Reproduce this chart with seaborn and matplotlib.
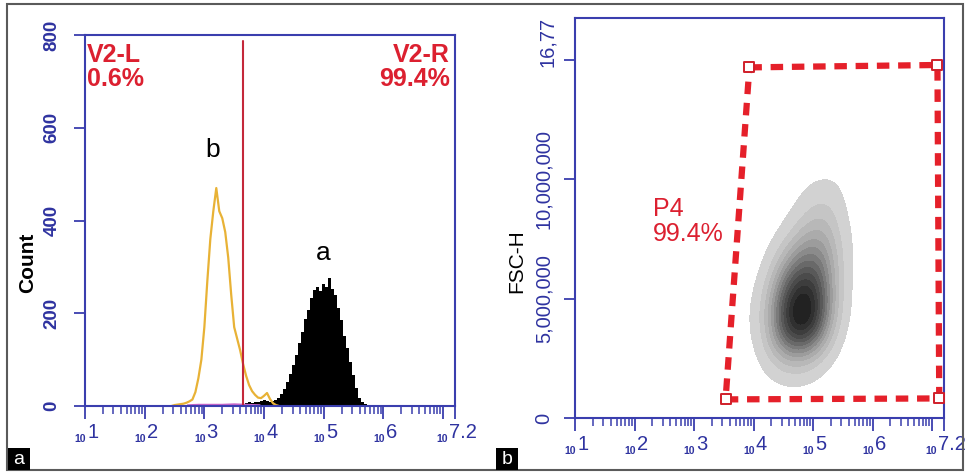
import numpy as np
import pandas as pd
import matplotlib
matplotlib.use("Agg")
import matplotlib.pyplot as plt
import seaborn as sns
from matplotlib.patches import Rectangle

# ---------------- data ----------------
# panel a: histogram "b" (yellow outline), x in log10 units
b_log = [2.45, 2.50, 2.55, 2.60, 2.65, 2.70, 2.75, 2.80, 2.85, 2.90, 2.95, 3.00,
         3.05, 3.10, 3.15, 3.20, 3.25, 3.30, 3.35, 3.40, 3.45, 3.50, 3.55, 3.60,
         3.65, 3.70, 3.75, 3.80, 3.85, 3.90, 3.95, 4.00, 4.05, 4.10, 4.15, 4.20, 4.25]
b_count = [0, 2, 3, 4, 5, 7, 10, 14, 30, 60, 100, 170,
           270, 360, 420, 470, 420, 405, 375, 320, 240, 170, 145, 120,
           90, 65, 45, 32, 24, 18, 17, 22, 28, 15, 6, 2, 0]

# panel a: histogram "a" (black filled)
a_log = [3.50, 3.55, 3.60, 3.65, 3.70, 3.75, 3.80, 3.85, 3.90, 3.95, 4.00, 4.05,
         4.10, 4.15, 4.20, 4.25, 4.30, 4.35, 4.40, 4.45, 4.50, 4.55, 4.60, 4.65,
         4.70, 4.75, 4.80, 4.85, 4.90, 4.95, 5.00, 5.05, 5.10, 5.15, 5.20, 5.25,
         5.30, 5.35, 5.40, 5.45, 5.50, 5.55, 5.60, 5.65, 5.70, 5.75]
a_count = [2, 3, 4, 5, 6, 8, 7, 9, 8, 10, 12, 10,
           8, 10, 12, 18, 26, 36, 52, 70, 88, 110, 135, 160,
           188, 208, 232, 250, 256, 248, 262, 256, 275, 252, 240, 212,
           185, 152, 125, 95, 66, 38, 18, 8, 4, 0]

# panel a: faint magenta trace along the baseline
c_log = [2.72, 2.90, 3.10, 3.30, 3.50, 3.70, 3.93]
c_count = [2, 3, 3, 3, 4, 3, 2]

gate_v2 = 3.65
v2_left = ["V2-L", "0.6%"]
v2_right = ["V2-R", "99.4%"]

count_ticks = [0, 200, 400, 600, 800]

# panel b: relative density of the FSC-H cloud on a grid (log10 x by FSC-H)
cloud_logx = [3.6, 3.8, 4.0, 4.2, 4.4, 4.6, 4.8, 5.0, 5.2, 5.4, 5.6, 5.8]
cloud_fsc = [9.5e6, 8.5e6, 7.5e6, 6.5e6, 5.5e6, 4.5e6, 3.5e6, 2.5e6]
cloud_density = [
    [0, 0, 0, 0, 0, 0, 0.2, 0.5, 0.6, 0.4, 0, 0],
    [0, 0, 0, 0, 0, 0.2, 0.7, 1.4, 1.6, 0.8, 0.1, 0],
    [0, 0, 0, 0, 0.3, 1.0, 2.4, 3.2, 2.8, 1.2, 0.3, 0],
    [0, 0, 0, 0.3, 1.6, 3.8, 5.2, 5.4, 4.2, 1.6, 0.3, 0],
    [0, 0.1, 0.1, 1.0, 3.6, 6.8, 8.2, 7.8, 4.8, 1.6, 0.2, 0],
    [0.1, 0.1, 0.3, 1.6, 5.2, 8.8, 10.0, 9.2, 5.4, 1.6, 0.2, 0],
    [0, 0.1, 0.2, 1.2, 4.2, 7.6, 8.6, 7.2, 3.6, 0.9, 0, 0],
    [0, 0, 0, 0.3, 1.0, 1.8, 2.0, 1.4, 0.5, 0.1, 0, 0],
]

# gate P4 vertices (log10 x, FSC-H)
p4_x = [3.93, 7.09, 7.12, 3.53]
p4_y = [14.70e6, 14.80e6, 0.82e6, 0.78e6]
p4_text = ["P4", "99.4%"]

fsc_ticks = [0, 5e6, 10e6, 15e6]
fsc_labels = ["0", "5,000,000", "10,000,000", ""]
fsc_top = 16.77e6
fsc_top_label = "16,77"

x_decades = [1, 2, 3, 4, 5, 6, 7]
x_end = 7.2
x_label_pos = [1, 2, 3, 4, 5, 6, 7.2]
x_exp_labels = ["1", "2", "3", "4", "5", "6", "7.2"]

# ---------------- style ----------------
sns.set_style("white")
plt.rcParams["font.family"] = ["Liberation Sans", "DejaVu Sans"]

BLUE = "#2f33a0"
SPINE = "#3a3eae"
RED = "#dc2030"

W, H = 965, 472
fig = plt.figure(figsize=(W / 100, H / 100), dpi=100)


def px_axes(left, right, top, bottom):
    return fig.add_axes([left / W, 1 - bottom / H, (right - left) / W, (bottom - top) / H])


ax1 = px_axes(85, 455, 35, 406)
ax2 = px_axes(575, 944, 18, 418)

df_a = pd.DataFrame({"logx": a_log, "count": a_count})
df_b = pd.DataFrame({"logx": b_log, "count": b_count})
df_c = pd.DataFrame({"logx": c_log, "count": c_count})
cloud_rows = [(lx, fy, w) for fy, row in zip(cloud_fsc, cloud_density)
              for lx, w in zip(cloud_logx, row) if w > 0]
df_cloud = pd.DataFrame(cloud_rows, columns=["logx", "fsc", "w"])
df_gate = pd.DataFrame({"logx": p4_x + p4_x[:1], "fsc": p4_y + p4_y[:1]})
df_vert = pd.DataFrame({"logx": p4_x, "fsc": p4_y})

# ---------------- panel a ----------------
a_edges = [round(v - 0.025, 4) for v in a_log] + [round(a_log[-1] + 0.025, 4)]
sns.histplot(data=df_a, x="logx", weights="count", bins=a_edges, element="step",
             fill=True, color="black", alpha=1, linewidth=0, ax=ax1)
sns.lineplot(data=df_c, x="logx", y="count", color="#c865c8", lw=1.2, ax=ax1)
sns.lineplot(data=df_b, x="logx", y="count", color="#e8b236", lw=1.6, ax=ax1)
ax1.axvline(gate_v2, ymin=0, ymax=0.985, color="#c4283a", lw=1.5)

ax1.set_xlim(1, x_end)
ax1.set_ylim(0, 800)
ax1.set_xlabel("")
ax1.set_ylabel("")

for txt, xa, ya, ha in ((v2_left[0], 0.006, 0.978, "left"), (v2_left[1], 0.006, 0.913, "left"),
                        (v2_right[0], 0.987, 0.978, "right"), (v2_right[1], 0.987, 0.913, "right")):
    ax1.text(xa, ya, txt, transform=ax1.transAxes, ha=ha, va="top",
             fontsize=18, fontweight="bold", color=RED)
ax1.text(0.346, 0.671, "b", transform=ax1.transAxes, ha="center", va="baseline",
         fontsize=19, color="black")
ax1.text(0.643, 0.394, "a", transform=ax1.transAxes, ha="center", va="baseline",
         fontsize=19, color="black")
ax1.text(-0.154, 0.385, "Count", transform=ax1.transAxes, ha="center", va="center",
         rotation=90, fontsize=15, fontweight="bold", color="black")

ax1.set_yticks(count_ticks)
ax1.set_yticklabels([str(t) for t in count_ticks])
for lab in ax1.get_yticklabels():
    lab.set_fontweight("bold")

# ---------------- panel b ----------------
grey_cmap = sns.blend_palette(["#d8d8d8", "#a6a6a6", "#5c5c5c", "#1c1c1c"], as_cmap=True)
sns.kdeplot(data=df_cloud, x="logx", y="fsc", weights="w", fill=True, cmap=grey_cmap,
            levels=14, thresh=0.03, bw_adjust=0.85, ax=ax2)

sns.lineplot(data=df_gate, x="logx", y="fsc", sort=False, estimator=None,
             color="#e5202a", lw=4.5, linestyle=(0, (2.0, 1.4)), ax=ax2)
sns.scatterplot(data=df_vert, x="logx", y="fsc", marker="s", s=45, facecolor="white",
                edgecolor="#d01f2a", linewidth=1.4, zorder=5, ax=ax2)

ax2.set_xlim(1, x_end)
ax2.set_ylim(0, fsc_top)
ax2.set_xlabel("")
ax2.set_ylabel("")
ax2.set_yticks(fsc_ticks)
ax2.set_yticklabels(fsc_labels)

ax2.text(0.211, 0.5525, p4_text[0], transform=ax2.transAxes, ha="left", va="top",
         fontsize=18, color=RED)
ax2.text(0.211, 0.49, p4_text[1], transform=ax2.transAxes, ha="left", va="top",
         fontsize=18, color=RED)
ax2.text(-0.157, 0.3925, "FSC-H", transform=ax2.transAxes, ha="center", va="center",
         rotation=90, fontsize=15, color="black")
ax2.annotate(fsc_top_label, xy=(0, 15.77e6), xycoords=("axes fraction", "data"),
             xytext=(-19.5, 0), textcoords="offset points", ha="center", va="center",
             rotation=90, fontsize=14.5, color=BLUE)

# ---------------- shared axis styling ----------------
BASE_FS, EXP_FS = 7.5, 14.5
CHAR_W = {".": 0.278}
minor = [d + np.log10(k) for d in x_decades for k in range(2, 10) if d + np.log10(k) < x_end]
for ax, ypad, ylsize in ((ax1, 9.5, 13.5), (ax2, 7.5, 14.5)):
    for s in ax.spines.values():
        s.set_color(SPINE)
        s.set_linewidth(1.5)
    ax.set_xticks(x_decades + [x_end])
    ax.set_xticklabels([""] * (len(x_decades) + 1))
    ax.set_xticks(minor, minor=True)
    ax.tick_params(axis="x", which="major", direction="out", length=9, width=1.3,
                   color=SPINE, bottom=True)
    ax.tick_params(axis="x", which="minor", direction="out", length=6, width=1.1,
                   color=SPINE, bottom=True)
    ax.tick_params(axis="y", which="major", direction="out", length=8, width=1.3,
                   color=SPINE, left=True, labelrotation=90, pad=ypad,
                   labelsize=ylsize, labelcolor=BLUE)
    for lab in ax.get_yticklabels():
        lab.set_va("center")
    for pos, ex in zip(x_label_pos, x_exp_labels):
        base_w = BASE_FS * 2 * 0.556
        exp_w = EXP_FS * sum(CHAR_W.get(ch, 0.556) for ch in ex)
        split = -(base_w + exp_w) / 2 + base_w + 1.5
        ax.annotate("10", xy=(pos, 0), xycoords=("data", "axes fraction"),
                    xytext=(split - 0.8, -20), textcoords="offset points", ha="right",
                    va="top", fontsize=BASE_FS, fontweight="bold", color=BLUE)
        ax.annotate(ex, xy=(pos, 0), xycoords=("data", "axes fraction"),
                    xytext=(split, -12), textcoords="offset points", ha="left",
                    va="top", fontsize=EXP_FS, color=BLUE)

# ---------------- panel frame and letters ----------------
fig.add_artist(Rectangle((7 / W, 2 / H), (963 - 7) / W, (470 - 4) / H,
                         transform=fig.transFigure, fill=False, ec="#5a5a5a", lw=1.5))
for x0, letter in ((8, "a"), (496, "b")):
    fig.add_artist(Rectangle((x0 / W, 2 / H), 22 / W, 22 / H, transform=fig.transFigure,
                             fc="black", ec="none"))
    fig.text((x0 + 11) / W, 13 / H, letter, ha="center", va="center", color="white",
             fontsize=14)

fig.savefig("out.png", dpi=100)
